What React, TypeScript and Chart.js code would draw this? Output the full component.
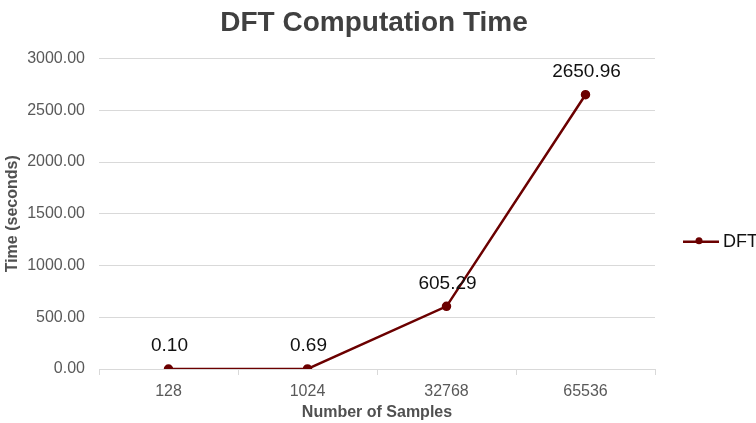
import React, { useEffect, useRef } from "react";
import { Chart, registerables } from "chart.js";

Chart.register(...registerables);

const categories: string[] = ["128", "1024", "32768", "65536"];
const dftTimes: number[] = [0.1, 0.69, 605.29, 2650.96];
const seriesName = "DFT";
const chartTitle = "DFT Computation Time";
const xAxisTitle = "Number of Samples";
const yAxisTitle = "Time (seconds)";
const yMin = 0;
const yMax = 3000;
const yStep = 500;

const FONT = "Arial, 'Liberation Sans', Helvetica, sans-serif";
const LINE_COLOR = "#6b0000";
const GRID_COLOR = "#d9d9d9";

// Writes each point's value above its marker.
const valueLabels = {
  id: "valueLabels",
  afterDatasetsDraw(chart: any) {
    const { ctx } = chart;
    chart.data.datasets.forEach((ds: any, di: number) => {
      const meta = chart.getDatasetMeta(di);
      meta.data.forEach((pt: any, i: number) => {
        const v = ds.data[i] as number;
        ctx.save();
        ctx.font = `19px ${FONT}`;
        ctx.fillStyle = "#111111";
        ctx.textAlign = "center";
        ctx.textBaseline = "middle";
        ctx.fillText(v.toFixed(2), pt.x + 1, pt.y - 23);
        ctx.restore();
      });
    });
  },
};

// Legend entry on the right: a line with a marker, followed by the series name.
const sideLegend = {
  id: "sideLegend",
  afterDraw(chart: any) {
    const { ctx, chartArea } = chart;
    const ds = chart.data.datasets[0];
    const x0 = chartArea.right + 28;
    const y = chartArea.top + (chartArea.bottom - chartArea.top) * 0.59;
    ctx.save();
    ctx.strokeStyle = ds.borderColor;
    ctx.lineWidth = 2.5;
    ctx.beginPath();
    ctx.moveTo(x0, y);
    ctx.lineTo(x0 + 36, y);
    ctx.stroke();
    ctx.fillStyle = ds.pointBackgroundColor;
    ctx.beginPath();
    ctx.arc(x0 + 16, y - 1, 3.5, 0, Math.PI * 2);
    ctx.fill();
    ctx.font = `18px ${FONT}`;
    ctx.fillStyle = "#111111";
    ctx.textAlign = "left";
    ctx.textBaseline = "middle";
    ctx.fillText(ds.label, x0 + 40, y);
    ctx.restore();
  },
};

export default function App() {
  const canvasRef = useRef<HTMLCanvasElement | null>(null);

  useEffect(() => {
    if (!canvasRef.current) return;
    const chart = new Chart(canvasRef.current, {
      type: "line",
      data: {
        labels: categories,
        datasets: [
          {
            label: seriesName,
            data: dftTimes,
            yAxisID: "y",
            borderColor: LINE_COLOR,
            backgroundColor: LINE_COLOR,
            pointBackgroundColor: LINE_COLOR,
            pointBorderColor: LINE_COLOR,
            borderWidth: 2.5,
            pointRadius: 3.5,
            pointHoverRadius: 3.5,
            tension: 0,
          },
        ],
      },
      options: {
        animation: false,
        responsive: false,
        layout: { padding: { right: 8 } },
        plugins: {
          legend: { display: false },
          tooltip: { enabled: false },
          title: {
            display: true,
            text: chartTitle,
            color: "#404040",
            font: { family: FONT, size: 28, weight: "bold" },
            padding: { top: 6, bottom: 19 },
          },
        },
        scales: {
          x: {
            offset: true,
            grid: {
              display: true,
              offset: true,
              drawOnChartArea: false,
              drawTicks: true,
              tickLength: 6,
              color: GRID_COLOR,
            },
            border: { display: true, color: GRID_COLOR },
            ticks: {
              color: "#595959",
              font: { family: FONT, size: 16 },
              padding: 7,
            },
            title: {
              display: true,
              text: xAxisTitle,
              color: "#505050",
              font: { family: FONT, size: 16, weight: "bold" },
              padding: { top: 0, bottom: 1 },
            },
            afterFit(scale: any) {
              scale.height = 54;
            },
          },
          y: {
            min: yMin,
            max: yMax,
            grid: { color: GRID_COLOR, drawTicks: false },
            border: { display: false },
            ticks: {
              stepSize: yStep,
              color: "#595959",
              font: { family: FONT, size: 16 },
              padding: 14,
              callback: (v: any) => Number(v).toFixed(2),
            },
            title: {
              display: true,
              text: yAxisTitle,
              color: "#505050",
              font: { family: FONT, size: 16, weight: "bold" },
              padding: { top: 3, bottom: 0 },
            },
            afterFit(scale: any) {
              scale.width = 99;
            },
          },
          // Empty right-hand axis that keeps room for the legend entry.
          legendSpace: {
            type: "linear",
            position: "right",
            display: true,
            grid: { display: false, drawTicks: false },
            border: { display: false },
            ticks: { display: false },
            afterFit(scale: any) {
              scale.width = 93;
            },
          },
        },
      },
      plugins: [valueLabels, sideLegend],
    } as any);
    return () => chart.destroy();
  }, []);

  return (
    <div style={{ position: "absolute", left: 0, top: 0, width: 756, height: 423, background: "#ffffff" }}>
      <canvas ref={canvasRef} width={756} height={423} />
    </div>
  );
}
